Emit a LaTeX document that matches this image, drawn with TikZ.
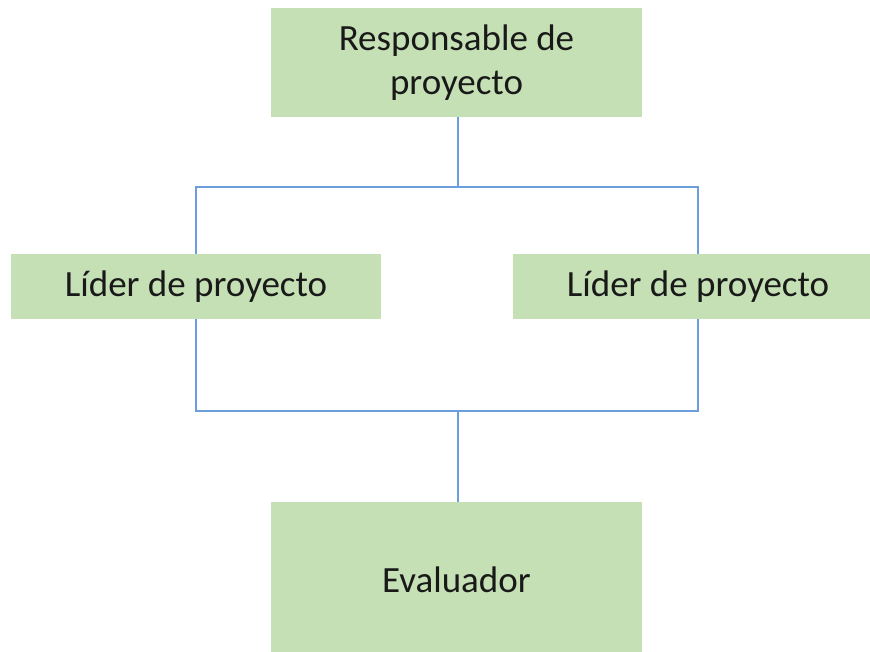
\documentclass[tikz,border=0pt]{standalone}
\usepackage{fontspec}
\setmainfont{Carlito}
\definecolor{boxgreen}{HTML}{C5E0B4}
\definecolor{lineblue}{HTML}{6A9FDB}
\begin{document}
\begin{tikzpicture}[x=1pt,y=-1pt,
  box/.style={fill=boxgreen, draw=none, inner sep=0pt, align=center,
    text=black!90, font=\fontsize{37}{44}\selectfont},
  conn/.style={draw=lineblue, line width=2pt}]
\useasboundingbox (0,0) rectangle (870,652);
\clip (0,0) rectangle (870,652);
\node[box, minimum width=371pt, minimum height=109pt] (top) at (456.5,62.5) {Responsable de\\proyecto};
\node[box, minimum width=370pt, minimum height=65pt] (left) at (196,286.5) {Líder de proyecto};
\node[box, minimum width=370pt, minimum height=65pt] (right) at (698,286.5) {Líder de proyecto};
\node[box, minimum width=371pt, minimum height=156pt] (bottom) at (456.5,580) {Evaluador};
\coordinate (j1) at (457.5,187);
\coordinate (j2) at (457.5,411);
\draw[conn] (top.south -| j1) -- (j1);
\draw[conn] (left.north) |- (j1) -| (right.north);
\draw[conn] (left.south) |- (j2) -| (right.south);
\draw[conn] (j2) -- (bottom.north -| j2);
\end{tikzpicture}
\end{document}
